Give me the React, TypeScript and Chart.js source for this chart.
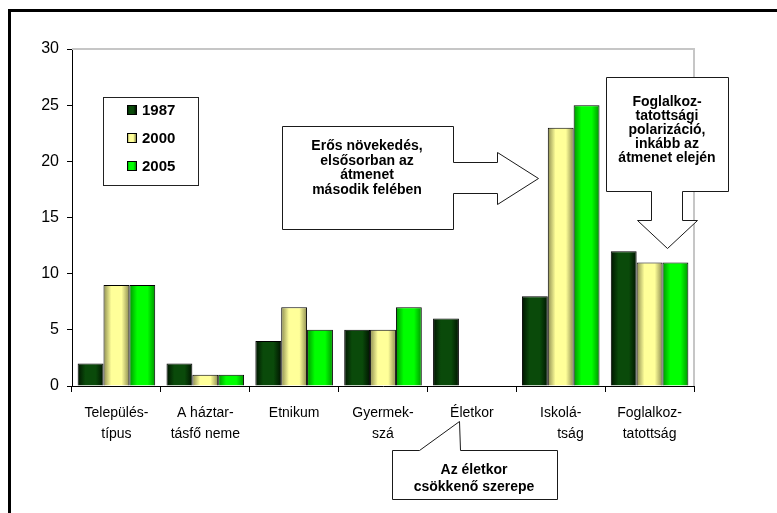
import React, { useEffect, useRef } from "react";
import { Chart, registerables } from "chart.js";

Chart.register(...registerables);

const categories: (string | string[])[] = [
  ["Település-", "típus"],
  ["A háztar-", "tásfő neme"],
  "Etnikum",
  ["Gyermek-", "szá"],
  "Életkor",
  ["Iskolá-", "     tság"],
  ["Foglalkoz-", "tatottság"],
];
const seriesNames = ["1987", "2000", "2005"];
const values1987: (number | null)[] = [2, 2, 4, 5, 6, 8, 12];
const values2000: (number | null)[] = [9, 1, 7, 5, null, 23, 11];
const values2005: (number | null)[] = [9, 1, 5, 7, null, 25, 11];
const yMin = 0;
const yMax = 30;
const yStep = 5;

const calloutGrowth = ["Erős növekedés,", "elsősorban az", "átmenet", "második felében"];
const calloutJobs = ["Foglalkoz-", "tatottsági", "polarizáció,", "inkább az", "átmenet elején"];
const calloutAge = ["Az életkor", "csökkenő szerepe"];

const FONT = "'Liberation Sans', Arial, sans-serif";
const palettes = [
  { edge: "#001400", mid: "#0a4a0a" },
  { edge: "#8c8c50", mid: "#ffff99" },
  { edge: "#009400", mid: "#00ff00" },
];

function makeGrad(ctx: CanvasRenderingContext2D, x0: number, w: number, p: { edge: string; mid: string }) {
  const g = ctx.createLinearGradient(x0, 0, x0 + w, 0);
  g.addColorStop(0, p.edge);
  g.addColorStop(0.3, p.mid);
  g.addColorStop(0.7, p.mid);
  g.addColorStop(1, p.edge);
  return g;
}

function drawShape(ctx: CanvasRenderingContext2D, pts: number[][]) {
  ctx.save();
  ctx.beginPath();
  pts.forEach(([x, y], i) => (i === 0 ? ctx.moveTo(x + 0.5, y + 0.5) : ctx.lineTo(x + 0.5, y + 0.5)));
  ctx.closePath();
  ctx.fillStyle = "#ffffff";
  ctx.fill();
  ctx.strokeStyle = "#1a1a1a";
  ctx.lineWidth = 1;
  ctx.stroke();
  ctx.restore();
}

function drawLines(ctx: CanvasRenderingContext2D, lines: string[], cx: number, firstBaseline: number, step: number, size: number) {
  ctx.save();
  ctx.fillStyle = "#000";
  ctx.font = `bold ${size}px ${FONT}`;
  ctx.textAlign = "center";
  ctx.textBaseline = "alphabetic";
  lines.forEach((l, i) => ctx.fillText(l, cx, firstBaseline + i * step));
  ctx.restore();
}

const decor = {
  id: "decor",
  afterDatasetsUpdate(chart: any) {
    chart.data.datasets.forEach((_ds: any, i: number) => {
      const meta = chart.getDatasetMeta(i);
      meta.data.forEach((el: any) => {
        const w = el.width;
        const x0 = el.x - w / 2;
        if (!isFinite(x0) || !isFinite(w) || !w) return;
        el.options = { ...el.options, backgroundColor: makeGrad(chart.ctx, x0, w, palettes[i]) };
      });
    });
  },
  beforeDraw(chart: any) {
    const ctx = chart.ctx as CanvasRenderingContext2D;
    ctx.save();
    ctx.fillStyle = "#fff";
    ctx.fillRect(0, 0, chart.width, chart.height);
    ctx.restore();
  },
  beforeDatasetsDraw(chart: any) {
    const ctx = chart.ctx as CanvasRenderingContext2D;
    const a = chart.chartArea;
    ctx.save();
    ctx.strokeStyle = "#c6c6c6";
    ctx.lineWidth = 2;
    ctx.beginPath();
    ctx.moveTo(a.left, a.top);
    ctx.lineTo(a.right, a.top);
    ctx.lineTo(a.right, a.bottom);
    ctx.stroke();
    ctx.restore();
  },
  afterDraw(chart: any) {
    const ctx = chart.ctx as CanvasRenderingContext2D;
    // outer frame
    ctx.save();
    ctx.strokeStyle = "#000";
    ctx.lineWidth = 3;
    ctx.strokeRect(9.5, 10.5, 1000, 1000);
    ctx.restore();

    // legend
    ctx.save();
    ctx.fillStyle = "#fff";
    ctx.fillRect(103, 97, 95, 88);
    ctx.strokeStyle = "#222";
    ctx.lineWidth = 1;
    ctx.strokeRect(103.5, 97.5, 95, 88);
    const rows = [110, 138, 166];
    seriesNames.forEach((name, i) => {
      const y = rows[i];
      ctx.fillStyle = makeGrad(ctx, 127, 9, palettes[i]);
      ctx.fillRect(127, y - 5, 9, 9);
      ctx.strokeStyle = "#000";
      ctx.strokeRect(127.5, y - 4.5, 9, 9);
      ctx.fillStyle = "#000";
      ctx.font = `bold 15px ${FONT}`;
      ctx.textAlign = "left";
      ctx.textBaseline = "middle";
      ctx.fillText(name, 142, y + 1);
    });
    ctx.restore();

    // callout: right arrow
    drawShape(ctx, [
      [282, 126], [453, 126], [453, 162], [497, 162], [497, 152], [538, 178],
      [497, 204], [497, 193], [453, 193], [453, 229], [282, 229],
    ]);
    drawLines(ctx, calloutGrowth, 367, 150, 14.6, 14);

    // callout: down arrow
    drawShape(ctx, [
      [606, 77], [728, 77], [728, 191], [682, 191], [682, 220], [697, 220],
      [667, 248], [637, 220], [651, 220], [651, 191], [606, 191],
    ]);
    drawLines(ctx, calloutJobs, 667, 106, 14, 14);

    // callout: age
    drawShape(ctx, [
      [392, 450], [419, 450], [459, 421], [460, 450], [557, 450], [557, 499], [392, 499],
    ]);
    drawLines(ctx, calloutAge, 474, 474, 16.5, 14);
  },
};

export default function App() {
  const ref = useRef<HTMLCanvasElement | null>(null);
  useEffect(() => {
    if (!ref.current) return;
    const chart = new Chart(ref.current, {
      type: "bar",
      data: {
        labels: categories,
        datasets: [
          { label: seriesNames[0], data: values1987 },
          { label: seriesNames[1], data: values2000 },
          { label: seriesNames[2], data: values2005 },
        ].map((d, i) => ({
          ...d,
          backgroundColor: () => palettes[i].mid,
          borderColor: "#000",
          borderWidth: 1,
          categoryPercentage: 0.873,
          barPercentage: 1,
        })),
      },
      options: {
        responsive: false,
        animation: false,
        events: [],
        layout: { padding: { left: 0, top: 49, right: 83, bottom: 0 } },
        plugins: { legend: { display: false }, tooltip: { enabled: false } },
        scales: {
          x: {
            grid: { display: true, drawOnChartArea: false, drawTicks: true, tickLength: 6, color: "#000", offset: true },
            border: { display: true, color: "#000", width: 1 },
            ticks: {
              color: "#000",
              autoSkip: false,
              maxRotation: 0,
              padding: 11,
              font: { family: FONT, size: 14, lineHeight: 1.5 },
            },
            afterFit: (s: any) => {
              s.height = 127;
            },
          },
          y: {
            min: yMin,
            max: yMax,
            ticks: { stepSize: yStep, color: "#000", padding: 8, font: { family: FONT, size: 16 } },
            grid: { display: true, drawOnChartArea: false, drawTicks: true, tickLength: 5, color: "#000" },
            border: { display: true, color: "#000", width: 1 },
            afterFit: (s: any) => {
              s.width = 72;
            },
          },
        },
      },
      plugins: [decor],
    } as any);
    return () => chart.destroy();
  }, []);
  return (
    <div style={{ position: "fixed", left: 0, top: 0, width: 777, height: 513, background: "#fff" }}>
      <canvas ref={ref} width={777} height={513} style={{ display: "block", width: 777, height: 513 }} />
    </div>
  );
}
